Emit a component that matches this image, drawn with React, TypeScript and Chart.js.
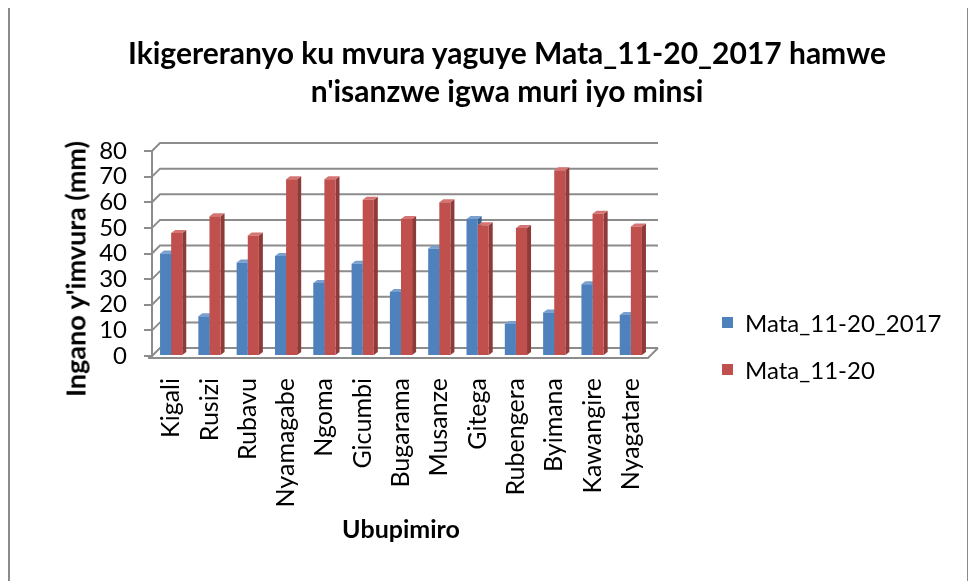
import React, { useEffect, useRef } from "react";
import { Chart, registerables } from "chart.js";

Chart.register(...registerables);

const categories = [
  "Kigali",
  "Rusizi",
  "Rubavu",
  "Nyamagabe",
  "Ngoma",
  "Gicumbi",
  "Bugarama",
  "Musanze",
  "Gitega",
  "Rubengera",
  "Byimana",
  "Kawangire",
  "Nyagatare",
];
const series2017 = [40, 15.5, 36.5, 39, 28.5, 36, 25, 42, 53.5, 12.5, 17, 28, 16];
const seriesNormal = [48, 54.5, 47, 69, 69, 61, 53.5, 60, 51, 50, 72.5, 55.5, 50.5];
const seriesNames = ["Mata_11-20_2017", "Mata_11-20"];
const yMin = 0;
const yMax = 80;
const yStep = 10;
const titleLines = [
  "Ikigereranyo ku mvura yaguye Mata_11-20_2017 hamwe",
  "n'isanzwe igwa muri iyo minsi",
];
const yTitle = "Ingano y'imvura (mm)";
const xTitle = "Ubupimiro";

const FONT = "Lato, 'Noto Sans', sans-serif";
const GRID = "#8c8c8c";
const FRONT = ["#4F81BD", "#C0504D"];
const SIDE = ["#3A6092", "#8E3A38"];
const TOP = ["#7AA0D0", "#D47573"];

const W = 957;
const H = 573;

const threeD = {
  id: "threeD",
  beforeDatasetsDraw(chart: any) {
    const { ctx, chartArea, scales } = chart;
    const { left, right, bottom } = chartArea;
    const y = scales.y;
    const DX = 8;
    const DY = 8;
    ctx.save();
    ctx.strokeStyle = GRID;
    ctx.lineWidth = 2;
    y.ticks.forEach((t: any) => {
      const py = y.getPixelForValue(t.value);
      ctx.beginPath();
      ctx.moveTo(left, py);
      ctx.lineTo(left + DX, py - DY);
      ctx.lineTo(right + DX, py - DY);
      ctx.stroke();
    });
    ctx.beginPath();
    ctx.moveTo(left - 4, bottom + 2);
    ctx.lineTo(right - 2, bottom + 2);
    ctx.lineTo(right + DX, bottom - DY);
    ctx.stroke();

    const BDX = 4;
    const BDY = 3;
    chart.data.datasets.forEach((_ds: any, i: number) => {
      const meta = chart.getDatasetMeta(i);
      meta.data.forEach((el: any) => {
        const p = el.getProps(["x", "y", "base", "width"], true);
        const l = p.x - p.width / 2;
        const r = p.x + p.width / 2;
        ctx.fillStyle = SIDE[i];
        ctx.beginPath();
        ctx.moveTo(r, p.y);
        ctx.lineTo(r + BDX, p.y - BDY);
        ctx.lineTo(r + BDX, p.base - BDY);
        ctx.lineTo(r, p.base);
        ctx.closePath();
        ctx.fill();
        ctx.fillStyle = TOP[i];
        ctx.beginPath();
        ctx.moveTo(l, p.y);
        ctx.lineTo(l + BDX, p.y - BDY);
        ctx.lineTo(r + BDX, p.y - BDY);
        ctx.lineTo(r, p.y);
        ctx.closePath();
        ctx.fill();
      });
    });
    ctx.restore();
  },
};

export default function App() {
  const ref = useRef<HTMLCanvasElement | null>(null);

  useEffect(() => {
    if (!ref.current) return;
    const chart = new Chart(ref.current, {
      type: "bar",
      data: {
        labels: categories,
        datasets: [
          {
            label: seriesNames[0],
            data: series2017,
            backgroundColor: FRONT[0],
            borderWidth: 0,
          },
          {
            label: seriesNames[1],
            data: seriesNormal,
            backgroundColor: FRONT[1],
            borderWidth: 0,
          },
        ],
      },
      options: {
        responsive: false,
        animation: false,
        layout: { padding: { top: 143, right: 317, left: 0, bottom: 0 } },
        plugins: {
          legend: { display: false },
          title: { display: false },
          tooltip: { enabled: false },
        },
        datasets: {
          bar: { categoryPercentage: 0.58, barPercentage: 1.0 },
        },
        scales: {
          x: {
            grid: { display: false, drawTicks: false },
            border: { display: false },
            ticks: {
              minRotation: 90,
              maxRotation: 90,
              autoSkip: false,
              padding: 22,
              color: "#000",
              font: { family: FONT, size: 25 },
            },
            title: {
              display: true,
              text: xTitle,
              color: "#000",
              font: { family: FONT, size: 25, weight: "bold" },
              padding: { top: 0, bottom: 36 },
            },
            afterFit: (s: any) => {
              s.height = 225;
            },
          },
          y: {
            min: yMin,
            max: yMax,
            ticks: {
              stepSize: yStep,
              autoSkip: false,
              padding: 17,
              color: "#000",
              font: { family: FONT, size: 24 },
            },
            grid: {
              drawOnChartArea: false,
              drawTicks: true,
              tickLength: 8,
              color: GRID,
              lineWidth: 2,
            },
            border: { display: true, color: GRID, width: 2 },
            afterFit: (s: any) => {
              s.width = 142;
            },
          },
        },
      },
      plugins: [threeD],
    });
    return () => chart.destroy();
  }, []);

  return (
    <div
      style={{
        position: "relative",
        width: W,
        height: H,
        border: "2px solid #8a8a8a",
        marginTop: -2,
        overflow: "hidden",
        background: "#fff",
        fontFamily: FONT,
      }}
    >
      <canvas
        ref={ref}
        width={W}
        height={H}
        style={{ position: "absolute", left: 0, top: 0, width: W, height: H }}
      />
      <div
        style={{
          position: "absolute",
          left: 47,
          top: 25,
          width: 900,
          textAlign: "center",
          fontWeight: "bold",
          fontSize: 30,
          lineHeight: "38px",
          color: "#000",
        }}
      >
        {titleLines.map((t) => (
          <div key={t}>{t}</div>
        ))}
      </div>
      <div
        style={{
          position: "absolute",
          left: 65,
          top: 261,
          transform: "translate(-50%, -50%) rotate(-90deg)",
          whiteSpace: "nowrap",
          fontWeight: "bold",
          fontSize: 27,
          color: "#000",
        }}
      >
        {yTitle}
      </div>
      {seriesNames.map((name, i) => (
        <div
          key={name}
          style={{
            position: "absolute",
            left: 712,
            top: [314, 361][i] - 15,
            height: 30,
            display: "flex",
            alignItems: "center",
            whiteSpace: "nowrap",
            fontSize: 24,
            color: "#000",
          }}
        >
          <span
            style={{
              display: "inline-block",
              width: 11,
              height: 11,
              background: FRONT[i],
              marginRight: 12,
            }}
          />
          {name}
        </div>
      ))}
    </div>
  );
}
